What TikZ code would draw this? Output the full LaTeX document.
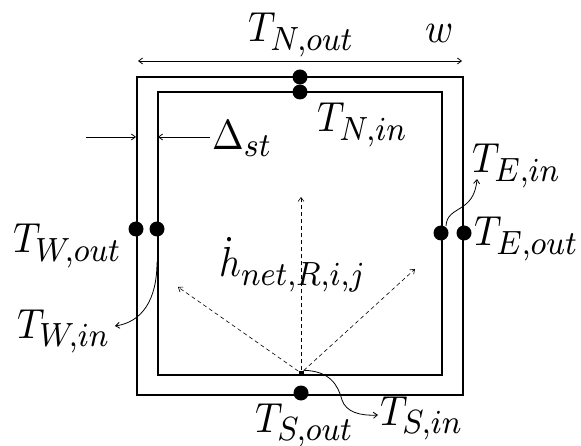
\documentclass[tikz,border=0pt]{standalone}
\usetikzlibrary{arrows.meta}
\DeclareMathSizes{10}{10}{8}{6}
\newcommand{\BigLbl}[1]{\scalebox{3.8}[4.2]{$#1$}}
\begin{document}
\begin{tikzpicture}[x=1pt,y=-1pt,
  lbl/.style={anchor=base west,inner sep=0pt},
  dotnode/.style={circle,fill=black,inner sep=0pt,minimum size=15pt},
  smalldot/.style={rectangle,fill=black,inner sep=0pt,minimum size=5pt},
  tip/.style={-{Straight Barb[length=4pt,width=6pt]}},
  thin arrow/.style={tip,line width=0.8pt},
  ray/.style={tip,dashed,dash pattern=on 4pt off 3pt,line width=0.6pt}]
\useasboundingbox (0,0) rectangle (581,446);
% walls
\draw[line width=1.2pt] (137,77) rectangle (463,395);
\draw[line width=1.6pt] (158,92) rectangle (442,375);
% width arrow
\coordinate (wl) at (138,61);
\coordinate (wr) at (462,61);
\draw[{Straight Barb[length=4pt,width=6pt]}-{Straight Barb[length=4pt,width=6pt]},line width=0.8pt] (wl) -- (wr);
% dots
\node[dotnode] (Nout) at (300,77) {};
\node[dotnode] (Nin) at (300,92) {};
\node[dotnode] (Wout) at (136,229) {};
\node[dotnode] (Win) at (157,229) {};
\node[dotnode] (Ein) at (441,233) {};
\node[dotnode] (Eout) at (464,233) {};
\node[dotnode] (Sout) at (301,393) {};
\node[smalldot] (src) at (301,373) {};
% labels
\node[lbl] (lNout) at (248,42) {\BigLbl{T_{N,out}}};
\node[lbl] (lw) at (425,43) {\BigLbl{w}};
\node[lbl] (lNin) at (317,132) {\BigLbl{T_{N,in}}};
\node[lbl] (lDelta) at (212,150) {\BigLbl{\Delta_{st}}};
\node[lbl] (lEin) at (472,173) {\BigLbl{T_{E,in}}};
\node[lbl] (lEout) at (474,246) {\BigLbl{T_{E,out}}};
\node[lbl] (lWout) at (13,253) {\BigLbl{T_{W,out}}};
\node[lbl] (lWin) at (17,338) {\BigLbl{T_{W,in}}};
\node[lbl] (lh) at (219,277) {\BigLbl{\dot{h}_{net,R,i,j}}};
\node[lbl] (lSout) at (255,432) {\BigLbl{T_{S,out}}};
\node[lbl] (lSin) at (380,425) {\BigLbl{T_{S,in}}};
% thickness arrows
\coordinate (dA) at (86,137);
\coordinate (dB) at (136,137);
\coordinate (dC) at (210,137);
\coordinate (dD) at (158,137);
\draw[thin arrow] (dA) -- (dB);
\draw[thin arrow] (dC) -- (dD);
% radiation rays
\coordinate (rUp) at (301,197);
\coordinate (rL) at (178,287);
\coordinate (rR) at (415,269);
\draw[ray] (src) -- (rUp);
\draw[ray] (src) -- (rL);
\draw[ray] (src) -- (rR);
% curved pointers
\coordinate (eS) at (446,226);
\coordinate (eT) at (477,179);
\draw[thin arrow] (eS) .. controls (447,205) and (474,214) .. (eT);
\coordinate (wS) at (157,262);
\coordinate (wT) at (115,326);
\draw[thin arrow] (wS) .. controls (157,300) and (142,322) .. (wT);
\coordinate (sT) at (378,415);
\draw[thin arrow] (src.north east) .. controls (330,371) and (338,385) .. (342,400) .. controls (346,412) and (360,416) .. (sT);
\end{tikzpicture}
\end{document}
